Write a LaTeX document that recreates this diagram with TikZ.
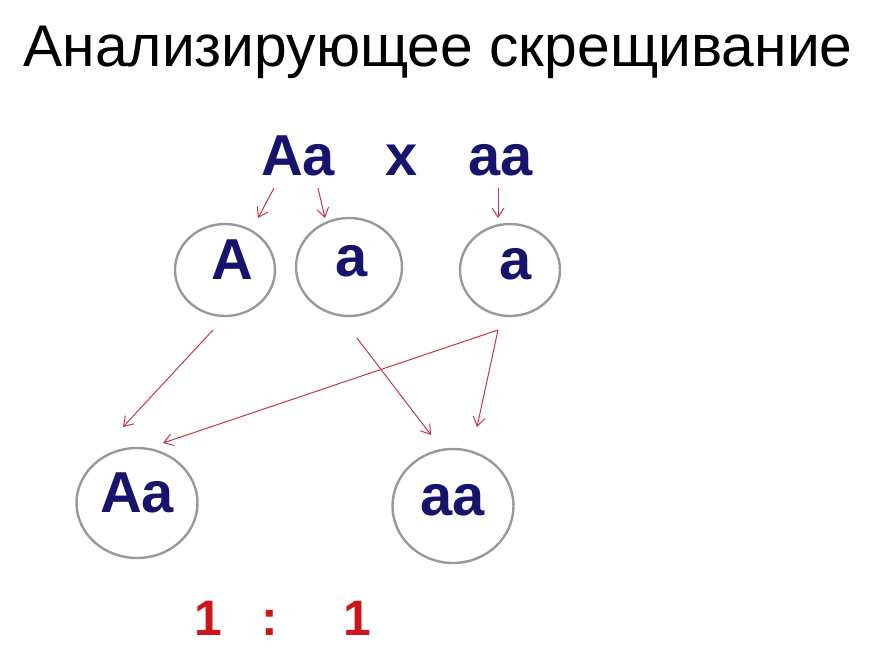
\documentclass[tikz,border=0pt]{standalone}
\usepackage{fontspec}
\setmainfont{Liberation Sans}
\usepackage{tikz}
\usepackage{xcolor}
\usetikzlibrary{shapes.geometric,arrows.meta}
\definecolor{genenavy}{RGB}{22,20,108}
\definecolor{ringgray}{RGB}{150,155,152}
\definecolor{arrowred}{RGB}{196,54,74}
\definecolor{ratiored}{RGB}{206,22,26}
\tikzset{
    title-text/.style = {font=\fontsize{59}{61}\selectfont, anchor=base, inner sep=0pt},
    gene-text/.style = {font=\bfseries\fontsize{58}{60}\selectfont, text=genenavy, anchor=base, inner sep=0pt},
    gamete/.style = {ellipse, draw=ringgray, line width=2.4bp, inner sep=2bp, text height=30bp, text depth=12bp,
        font=\bfseries\fontsize{58}{60}\selectfont, text=genenavy, minimum width=100bp, minimum height=92bp},
    offspring/.style = {gamete, minimum width=121bp, minimum height=110bp},
    cross-arrow/.style = {draw=arrowred, line width=1bp, -{Straight Barb[length=9bp,width=12bp]}},
    ratio-text/.style = {font=\bfseries\fontsize{50}{52}\selectfont, text=ratiored, anchor=base, inner sep=0pt},
}

\begin{document}
\begin{tikzpicture}[x=1bp,y=-1bp]
\useasboundingbox (0,0) rectangle (872,660);
% title
\node [title-text] (title) at (438,67) {Анализирующее скрещивание};
% parents
\node [gene-text] (pAa) at (298,175) {Aa};
\node [gene-text] (cross) at (402,175) {x};
\node [gene-text] (paa) at (501,175) {aa};
% gametes
\node [gamete] (gA) at (225,270) {\hspace{14bp}A};
\node [gamete, minimum width=106bp, minimum height=98bp] (ga1) at (349,267) {\hspace{6bp}a};
\node [gamete] (ga2) at (510,270) {\hspace{12bp}a};
% offspring
\node [offspring] (fAa) at (137,503) {Aa\hspace{6bp}};
\node [offspring, minimum height=114bp] (faa) at (453,506) {aa};
% ratio
\node [ratio-text] (r1) at (208,635) {1};
\node [ratio-text] (rcolon) at (270,635) {:};
\node [ratio-text] (r2) at (357,635) {1};

% arrow ends
\coordinate (pA-out) at (274,188);
\coordinate (gA-in) at (258,218);
\coordinate (pa-out) at (318,188);
\coordinate (ga1-in) at (325,218);
\coordinate (paa-out) at (498,188);
\coordinate (ga2-in) at (498,218);
\coordinate (gA-out) at (213,330);
\coordinate (fAa-in1) at (123,427);
\coordinate (ga1-out) at (357,338);
\coordinate (faa-in1) at (431,435);
\coordinate (ga2-out) at (498,330);
\coordinate (faa-in2) at (477,427);
\coordinate (fAa-in2) at (163,443);

\draw [cross-arrow] (pA-out) -- (gA-in);
\draw [cross-arrow] (pa-out) -- (ga1-in);
\draw [cross-arrow] (paa-out) -- (ga2-in);
\draw [cross-arrow] (gA-out) -- (fAa-in1);
\draw [cross-arrow] (ga1-out) -- (faa-in1);
\draw [cross-arrow] (ga2-out) -- (faa-in2);
\draw [cross-arrow] (ga2-out) -- (fAa-in2);
\end{tikzpicture}
\end{document}
